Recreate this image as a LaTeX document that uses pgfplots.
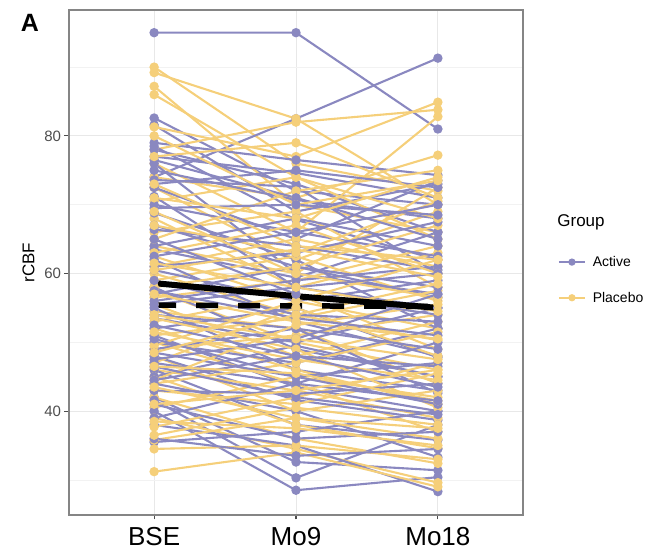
\documentclass[border=0pt]{standalone}
\usepackage{pgfplots}
\pgfplotsset{compat=1.18}
\usepackage{fontspec}
\setmainfont{Liberation Sans}
\definecolor{actc}{HTML}{8A88C0}
\definecolor{plcc}{HTML}{F5CF7A}
\definecolor{tickgray}{HTML}{4D4D4D}
\definecolor{bordergray}{HTML}{858585}
\pgfplotsset{
  actline/.style={color=actc, line width=2.1pt, mark=*, mark size=3.6pt, mark options={solid}},
  plcline/.style={color=plcc, line width=2.1pt, mark=*, mark size=3.6pt, mark options={solid}},
  act/.style={actline, forget plot},
  plc/.style={plcline, forget plot},
}
\begin{document}
\begin{tikzpicture}
\useasboundingbox (0,0) rectangle (656pt,556pt);
\begin{axis}[
  at={(69pt,41pt)}, anchor=south west,
  scale only axis, width=454pt, height=505pt,
  xmin=-0.6, xmax=2.6, ymin=24.9, ymax=98.3,
  xtick={0,1,2}, xticklabels={BSE,Mo9,Mo18},
  ytick={40,60,80}, minor ytick={30,50,70,90},
  grid=both,
  major grid style={color=black!9, line width=1pt},
  minor grid style={color=black!5, line width=0.6pt},
  axis line style={color=bordergray, line width=1.2pt},
  xtick pos=bottom, ytick pos=left, tick align=outside,
  major tick length=4.5pt, minor tick length=0pt,
  every tick/.style={color=tickgray, line width=1.1pt},
  /pgf/number format/assume math mode=true,
  yticklabel style={font=\fontsize{15}{17}\selectfont, color=tickgray},
  xticklabel style={font=\fontsize{26}{29}\selectfont, color=black, yshift=-4pt},
  ylabel={rCBF},
  ylabel style={font=\fontsize{17}{19}\selectfont, at={(axis description cs:-0.089,0.5)}, anchor=center},
  clip=false,
  legend style={draw=none, fill=none, at={(rel axis cs:1.077,0.4655)}, anchor=west,
    font=\fontsize{14}{16}\selectfont, row sep=20pt, inner sep=0pt,
    nodes={inner sep=2pt}},
  legend cell align=left,
  legend image code/.code={\draw[#1, mark repeat=2, mark phase=2, line width=1.6pt, mark size=2.8pt] plot coordinates {(0pt,0pt) (13pt,0pt) (26pt,0pt)};},
]
\addlegendimage{actline}\addlegendentry{\hspace{5pt}Active}
\addlegendimage{plcline}\addlegendentry{\hspace{5pt}Placebo}

\addplot[act] coordinates {(0,95)(1,95)(2,81)};
\addplot[plc] coordinates {(0,90)(1,76)(2,72)};
\addplot[act] coordinates {(0,74)(1,82.5)(2,91.3)};
\addplot[plc] coordinates {(0,89.2)(1,82.5)(2,70)};
\addplot[act] coordinates {(0,82.6)(1,72)(2,70)};
\addplot[plc] coordinates {(0,87.2)(1,70)(2,66)};
\addplot[act] coordinates {(0,81.6)(1,69)(2,73)};
\addplot[plc] coordinates {(0,81.3)(1,77)(2,84.9)};
\addplot[act] coordinates {(0,79)(1,76.5)(2,74.3)};
\addplot[plc] coordinates {(0,78)(1,82)(2,83.8)};
\addplot[act] coordinates {(0,78.5)(1,67.8)(2,62)};
\addplot[plc] coordinates {(0,76)(1,66)(2,82.8)};
\addplot[act] coordinates {(0,78)(1,73)(2,66)};
\addplot[plc] coordinates {(0,74)(1,71)(2,77.2)};
\addplot[act] coordinates {(0,77)(1,74.6)(2,71)};
\addplot[plc] coordinates {(0,72.5)(1,62)(2,69)};
\addplot[act] coordinates {(0,76)(1,60)(2,57)};
\addplot[plc] coordinates {(0,70.5)(1,74)(2,65)};
\addplot[act] coordinates {(0,75)(1,70.7)(2,68)};
\addplot[plc] coordinates {(0,68)(1,58)(2,63)};
\addplot[act] coordinates {(0,73.6)(1,72.6)(2,60)};
\addplot[plc] coordinates {(0,66)(1,69)(2,58)};
\addplot[act] coordinates {(0,72.5)(1,65)(2,73.5)};
\addplot[plc] coordinates {(0,64)(1,60)(2,72.5)};
\addplot[act] coordinates {(0,71.2)(1,58)(2,55)};
\addplot[plc] coordinates {(0,62.5)(1,56)(2,52)};
\addplot[act] coordinates {(0,68.8)(1,62)(2,52)};
\addplot[plc] coordinates {(0,61)(1,65)(2,61)};
\addplot[act] coordinates {(0,66.4)(1,64)(2,60.5)};
\addplot[plc] coordinates {(0,60)(1,54)(2,50.3)};
\addplot[act] coordinates {(0,63.5)(1,59.4)(2,66)};
\addplot[plc] coordinates {(0,59)(1,62.5)(2,56)};
\addplot[act] coordinates {(0,62)(1,53)(2,48)};
\addplot[plc] coordinates {(0,57.5)(1,50)(2,46)};
\addplot[act] coordinates {(0,60.5)(1,56)(2,59)};
\addplot[plc] coordinates {(0,56.5)(1,59)(2,64)};
\addplot[act] coordinates {(0,58)(1,49)(2,45)};
\addplot[plc] coordinates {(0,55.5)(1,48)(2,53)};
\addplot[act] coordinates {(0,57)(1,61)(2,56.5)};
\addplot[plc] coordinates {(0,54.5)(1,52)(2,44)};
\addplot[act] coordinates {(0,55)(1,46)(2,43)};
\addplot[plc] coordinates {(0,53)(1,57)(2,49)};
\addplot[act] coordinates {(0,53.5)(1,50)(2,55)};
\addplot[plc] coordinates {(0,52)(1,46)(2,41)};
\addplot[act] coordinates {(0,52)(1,55)(2,47.8)};
\addplot[plc] coordinates {(0,51)(1,53.5)(2,57.5)};
\addplot[act] coordinates {(0,51)(1,43.5)(2,40)};
\addplot[plc] coordinates {(0,50)(1,44)(2,37)};
\addplot[act] coordinates {(0,50)(1,47)(2,52)};
\addplot[plc] coordinates {(0,49)(1,51)(2,54)};
\addplot[act] coordinates {(0,49)(1,52)(2,42.6)};
\addplot[plc] coordinates {(0,48)(1,40)(2,43)};
\addplot[act] coordinates {(0,48)(1,41.6)(2,38.7)};
\addplot[plc] coordinates {(0,47)(1,55)(2,48)};
\addplot[act] coordinates {(0,47)(1,44)(2,50)};
\addplot[plc] coordinates {(0,46)(1,43)(2,39)};
\addplot[act] coordinates {(0,46)(1,38)(2,35.8)};
\addplot[plc] coordinates {(0,45)(1,38)(2,34.6)};
\addplot[act] coordinates {(0,45)(1,49.5)(2,45)};
\addplot[plc] coordinates {(0,44)(1,47)(2,51.5)};
\addplot[act] coordinates {(0,44)(1,40)(2,33.3)};
\addplot[plc] coordinates {(0,43)(1,41)(2,45.5)};
\addplot[act] coordinates {(0,42)(1,32.6)(2,31.4)};
\addplot[plc] coordinates {(0,42)(1,36)(2,32.4)};
\addplot[act] coordinates {(0,41.6)(1,30.3)(2,38)};
\addplot[plc] coordinates {(0,40.5)(1,45)(2,42)};
\addplot[act] coordinates {(0,40)(1,28.5)(2,30.4)};
\addplot[plc] coordinates {(0,39)(1,34.5)(2,29.6)};
\addplot[act] coordinates {(0,38)(1,35)(2,28.3)};
\addplot[plc] coordinates {(0,37.7)(1,42)(2,47)};
\addplot[act] coordinates {(0,35.5)(1,37)(2,40)};
\addplot[plc] coordinates {(0,35.8)(1,39)(2,36)};
\addplot[act] coordinates {(0,64)(1,68)(2,64)};
\addplot[plc] coordinates {(0,34.5)(1,35)(2,33)};
\addplot[act] coordinates {(0,67)(1,61)(2,58)};
\addplot[plc] coordinates {(0,31.2)(1,34)(2,29)};
\addplot[act] coordinates {(0,70)(1,66)(2,62.5)};
\addplot[plc] coordinates {(0,65)(1,72)(2,75)};
\addplot[act] coordinates {(0,56)(1,59)(2,61)};
\addplot[plc] coordinates {(0,63)(1,67)(2,60)};
\addplot[act] coordinates {(0,54)(1,52)(2,49)};
\addplot[plc] coordinates {(0,58)(1,61)(2,67)};
\addplot[act] coordinates {(0,59)(1,54)(2,53)};
\addplot[plc] coordinates {(0,49.5)(1,56)(2,62)};
\addplot[act] coordinates {(0,61)(1,63)(2,67.5)};
\addplot[plc] coordinates {(0,53.5)(1,49)(2,40.5)};
\addplot[act] coordinates {(0,48.5)(1,45)(2,47)};
\addplot[plc] coordinates {(0,44.5)(1,52.5)(2,55.5)};
\addplot[act] coordinates {(0,43)(1,42.5)(2,44)};
\addplot[plc] coordinates {(0,67)(1,63)(2,70.5)};
\addplot[act] coordinates {(0,76.5)(1,71)(2,65)};
\addplot[plc] coordinates {(0,86)(1,74)(2,68)};
\addplot[act] coordinates {(0,73)(1,75)(2,72.5)};
\addplot[plc] coordinates {(0,80)(1,70)(2,73.5)};
\addplot[act] coordinates {(0,69.5)(1,70)(2,68.5)};
\addplot[plc] coordinates {(0,77)(1,79)(2,71)};
\addplot[act] coordinates {(0,65)(1,57)(2,54)};
\addplot[plc] coordinates {(0,73)(1,64)(2,62)};
\addplot[act] coordinates {(0,62.5)(1,66)(2,70)};
\addplot[plc] coordinates {(0,71)(1,68)(2,74)};
\addplot[act] coordinates {(0,57.5)(1,53.5)(2,51)};
\addplot[plc] coordinates {(0,69)(1,60)(2,56.5)};
\addplot[act] coordinates {(0,55.5)(1,58)(2,60)};
\addplot[plc] coordinates {(0,61.5)(1,58)(2,54.5)};
\addplot[act] coordinates {(0,52.5)(1,48)(2,46.5)};
\addplot[plc] coordinates {(0,60.5)(1,63.5)(2,59.5)};
\addplot[act] coordinates {(0,50.5)(1,45)(2,41)};
\addplot[plc] coordinates {(0,57)(1,53)(2,50.5)};
\addplot[act] coordinates {(0,47.5)(1,50.5)(2,57)};
\addplot[plc] coordinates {(0,54)(1,50.5)(2,47.5)};
\addplot[act] coordinates {(0,46.5)(1,42)(2,39.5)};
\addplot[plc] coordinates {(0,51.5)(1,47.5)(2,44.5)};
\addplot[act] coordinates {(0,44.5)(1,48)(2,43.5)};
\addplot[plc] coordinates {(0,48.5)(1,54)(2,58.5)};
\addplot[act] coordinates {(0,41)(1,36)(2,37)};
\addplot[plc] coordinates {(0,46.5)(1,45.5)(2,41.5)};
\addplot[act] coordinates {(0,39)(1,44)(2,41.5)};
\addplot[plc] coordinates {(0,43.5)(1,39)(2,37.5)};
\addplot[act] coordinates {(0,36)(1,33.5)(2,34.5)};
\addplot[plc] coordinates {(0,41)(1,43)(2,46)};
\addplot[plc] coordinates {(0,38.5)(1,37.5)(2,35)};
\addplot[plc] coordinates {(0,36.5)(1,40.5)(2,38)};

% group means
\addplot[forget plot, black, line width=5.5pt, dash pattern=on 22pt off 20pt] coordinates {(0,55.4)(1,55.3)(2,55.2)};
\addplot[forget plot, black, line width=6pt] coordinates {(0,58.6)(1,56.7)(2,55.0)};

\node[font=\bfseries\fontsize{25}{28}\selectfont, anchor=center] at (rel axis cs:-0.086,0.974) {A};
\node[font=\fontsize{17}{20}\selectfont, anchor=west] at (rel axis cs:1.068,0.58) {Group};
\end{axis}
\end{tikzpicture}
\end{document}
